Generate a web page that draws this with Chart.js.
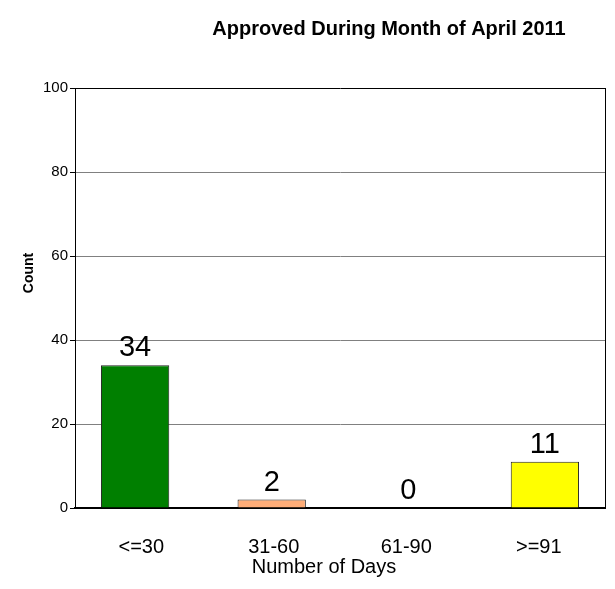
<!DOCTYPE html>
<html lang="en">
<head>
    <meta charset="UTF-8">
    <title>Approved During Month of April 2011</title>
    <script src="https://cdn.jsdelivr.net/npm/chart.js"></script>
    <style>
        html, body { margin:0; padding:0; background:#fff; }
        #wrap { width:615px; height:589px; }
    </style>
</head>
<body>
    <div id="wrap"><canvas id="myChart"></canvas></div>

    <script>
        // data
        const categories = ['<=30', '31-60', '61-90', '>=91'];
        const counts = [34, 2, 0, 11];
        const barColors = ['#007f00', '#ffad78', '#ffffff', '#ffff00'];
        const yTicks = [0, 20, 40, 60, 80, 100];

        const FONT = "'Liberation Sans', Arial, sans-serif";

        // titles + value labels drawn on top
        const textPlugin = {
            id: 'textPlugin',
            afterDatasetsDraw(chart) {
                const ctx = chart.ctx;
                ctx.save();
                ctx.fillStyle = '#000';
                ctx.textAlign = 'center';
                ctx.textBaseline = 'alphabetic';

                // value labels
                ctx.font = '29px ' + FONT;
                const meta = chart.getDatasetMeta(0);
                meta.data.forEach((bar, i) => {
                    ctx.fillText(String(counts[i]), bar.x, bar.y - 9);
                });

                // chart title
                ctx.font = 'bold 20px ' + FONT;
                ctx.fillText('Approved During Month of April 2011', 389, 35);

                // x axis title
                ctx.font = '20px ' + FONT;
                ctx.fillText('Number of Days', 324, 573);

                // y axis title
                ctx.font = 'bold 14px ' + FONT;
                ctx.translate(33, 273);
                ctx.rotate(-Math.PI / 2);
                ctx.fillText('Count', 0, 0);
                ctx.restore();
            }
        };

        const data = {
            labels: categories,
            datasets: [{
                // bars sit on their own hidden linear axis, the labels stay on the category axis
                data: counts.map((v, i) => ({ x: i, y: v })),
                xAxisID: 'xb',
                backgroundColor: barColors,
                borderColor: '#222',
                borderWidth: 1,
                borderSkipped: 'bottom',
                categoryPercentage: 1.0,
                barPercentage: 0.5
            }]
        };

        const options = {
            responsive: false,
            animation: false,
            layout: { padding: { top: 88, right: 10, left: 0, bottom: 0 } },
            plugins: {
                legend: { display: false },
                title: { display: false },
                tooltip: { enabled: false }
            },
            scales: {
                xb: {
                    type: 'linear',
                    display: false,
                    offset: false,
                    grid: { offset: false },
                    min: -0.44,
                    max: 3.44,
                    afterBuildTicks(scale) { scale.ticks = categories.map((c, i) => ({ value: i })); }
                },
                x: {
                    type: 'category',
                    labels: categories,
                    grid: { display: false, drawTicks: false },
                    border: { display: true, color: '#000', width: 2 },
                    ticks: { color: '#000', font: { family: FONT, size: 20 }, padding: 27 },
                    afterFit(scale) { scale.height = 81; }
                },
                y: {
                    min: 0,
                    max: 100,
                    afterBuildTicks(scale) { scale.ticks = yTicks.map(v => ({ value: v })); },
                    grid: {
                        color: c => (c.tick && (c.tick.value === 100)) ? '#000' : '#808080',
                        tickColor: '#000',
                        tickLength: 5
                    },
                    border: { display: true, color: '#000', width: 1 },
                    ticks: { color: '#000', font: { family: FONT, size: 15 }, padding: 2 },
                    afterFit(scale) { scale.width = 75; }
                },
                yRight: {
                    position: 'right',
                    min: 0,
                    max: 100,
                    grid: { display: false },
                    border: { display: true, color: '#000', width: 1 },
                    ticks: { display: false },
                    afterFit(scale) { scale.width = 0; }
                }
            }
        };

        const canvas = document.querySelector('#myChart');
        canvas.width = 615;
        canvas.height = 589;
        const ctx = canvas.getContext('2d');

        const myChart = new Chart(ctx, {
            type: 'bar',
            data: data,
            options: options,
            plugins: [textPlugin]
        });
    </script>
</body>
</html>
